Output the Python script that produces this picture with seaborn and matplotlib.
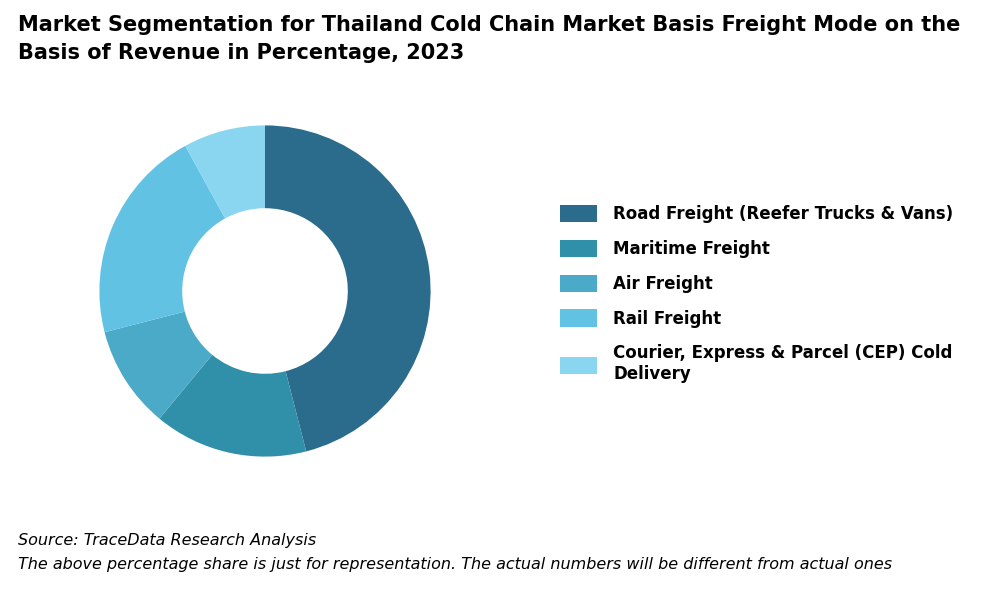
import matplotlib.pyplot as plt
import seaborn as sns
from matplotlib.patches import Patch

segments = ['Road Freight (Reefer Trucks & Vans)', 'Maritime Freight', 'Air Freight',
            'Rail Freight', 'Courier, Express & Parcel (CEP) Cold\nDelivery']
shares = [46, 15, 10, 21, 8]
colors = ['#2B6C8C', '#3090AA', '#4BAAC8', '#62C2E4', '#8AD6F0']

sns.set_theme(style='white')
plt.rcParams['font.family'] = ['DejaVu Sans']
plt.rcParams['text.color'] = 'black'

fig = plt.figure(figsize=(10, 6), dpi=100)
ax = fig.add_axes([0.058, 0.17, 0.414, 0.69])
ax.pie(shares, colors=colors, startangle=90, counterclock=False,
       wedgeprops=dict(width=0.5, edgecolor='none'))
ax.set_aspect('equal')

fig.text(0.018, 0.975, 'Market Segmentation for Thailand Cold Chain Market Basis Freight Mode on the\nBasis of Revenue in Percentage, 2023',
         fontsize=15, fontweight='bold', va='top', ha='left', linespacing=1.5)

handles = [Patch(facecolor=c, edgecolor='none') for c in colors]
fig.legend(handles, segments, loc='center left', bbox_to_anchor=(0.545, 0.51),
           frameon=False, handlelength=2.2, handleheight=1.2, handletextpad=1.0,
           labelspacing=1.0, prop={'weight': 'bold', 'size': 12})

fig.text(0.018, 0.092, 'Source: TraceData Research Analysis', fontsize=11.5, style='italic')
fig.text(0.018, 0.052, 'The above percentage share is just for representation. The actual numbers will be different from actual ones',
         fontsize=11.5, style='italic')

fig.savefig('out.png', dpi=100)
